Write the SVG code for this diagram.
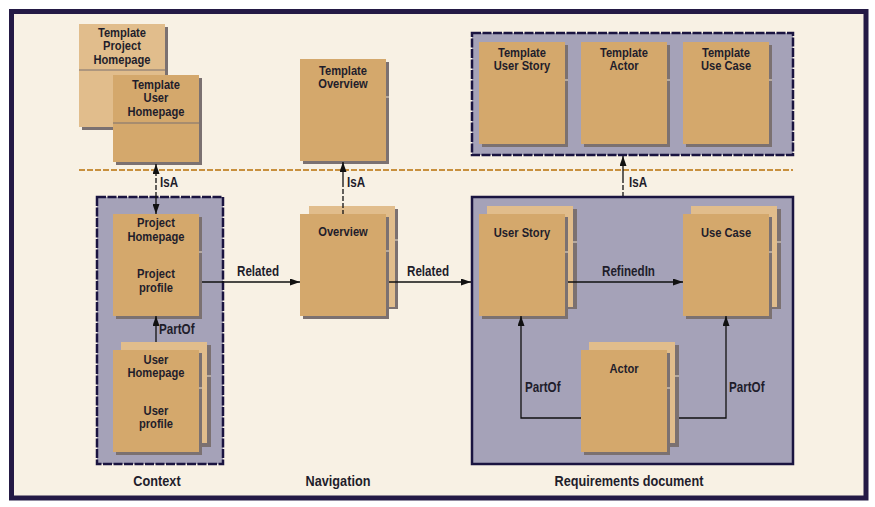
<svg xmlns="http://www.w3.org/2000/svg" width="875" height="507" viewBox="0 0 875 507">
<style>
text{font-family:"Liberation Sans",Arial,sans-serif;font-weight:bold;font-size:13.6px;fill:#1f1d2b}
.c{text-anchor:middle}
.lb{font-size:14.2px}
.big{font-size:15.5px}
.node{fill:#d4a86c}
.back{fill:#e1bd8c}
.sh{fill:#7b7171}
.tick{stroke:#efe2cf;stroke-width:1}
.div{stroke:#7b7171;stroke-width:1}
.cont{fill:#a5a2b8;stroke:#1a1440;stroke-width:2.5}
.dash{stroke-dasharray:9,1.5}
.ln{stroke:#111;stroke-width:1.3;fill:none}
.dl{stroke-dasharray:5,2}
</style>
<defs>
<marker id="ah" markerUnits="userSpaceOnUse" markerWidth="10" markerHeight="7" refX="10" refY="3.5" orient="auto">
<path d="M0,0 L10,3.5 L0,7 z" fill="#111"/>
</marker>
</defs>
<rect x="0" y="0" width="875" height="507" fill="#ffffff"/>
<rect x="11.5" y="11.5" width="854.5" height="486.5" fill="#f8f1e4" stroke="#241a45" stroke-width="5"/>
<g id="level-line">
<line x1="79" y1="170" x2="793" y2="170" stroke="#c8903e" stroke-width="2" stroke-dasharray="6,2"/>
</g>
<g id="context">
<rect class="cont dash" x="97" y="197" width="126" height="267"/>
<g transform="scale(0.82 1)"><text class="c big" x="191.46" y="486.5">Context</text></g>
</g>
<g id="template-container">
<rect class="cont dash" x="472" y="33" width="321" height="122"/>
</g>
<g id="requirements">
<rect class="cont" x="472" y="197" width="321" height="267"/>
<g transform="scale(0.82 1)"><text class="c big" x="767.07" y="486.5">Requirements document</text></g>
</g>
<g id="navigation">
<g transform="scale(0.82 1)"><text class="c big" x="412.2" y="486.5">Navigation</text></g>
</g>
<g id="template-project-homepage">
<rect class="sh" x="82" y="27" width="86" height="103"/>
<rect class="back" x="79" y="24" width="86" height="103"/>
<line class="div" x1="79" y1="70" x2="165" y2="70"/>
<g transform="scale(0.82 1)">
<text class="c" x="148.78" y="37">Template</text>
<text class="c" x="148.78" y="50.5">Project</text>
<text class="c" x="148.78" y="64">Homepage</text>
</g>
</g>
<g id="template-user-homepage">
<rect class="sh" x="116" y="78" width="86" height="87"/>
<rect class="node" x="113" y="75" width="86" height="87"/>
<line class="div" x1="113" y1="123" x2="199" y2="123"/>
<g transform="scale(0.82 1)">
<text class="c" x="190.24" y="89">Template</text>
<text class="c" x="190.24" y="102.5">User</text>
<text class="c" x="190.24" y="116">Homepage</text>
</g>
</g>
<g id="template-overview">
<rect class="sh" x="303" y="62" width="86" height="102"/>
<rect class="node" x="300" y="59" width="86" height="102"/>
<line class="tick" x1="386" y1="97" x2="389" y2="97"/>
<g transform="scale(0.82 1)">
<text class="c" x="418.29" y="75">Template</text>
<text class="c" x="418.29" y="88.5">Overview</text>
</g>
</g>
<g id="template-user-story">
<rect class="sh" x="482" y="45" width="86" height="102"/>
<rect class="node" x="479" y="42" width="86" height="102"/>
<line class="tick" x1="565" y1="80" x2="568" y2="80"/>
<g transform="scale(0.82 1)">
<text class="c" x="636.59" y="57">Template</text>
<text class="c" x="636.59" y="70.5">User Story</text>
</g>
</g>
<g id="template-actor">
<rect class="sh" x="584" y="45" width="86" height="102"/>
<rect class="node" x="581" y="42" width="86" height="102"/>
<line class="tick" x1="667" y1="80" x2="670" y2="80"/>
<g transform="scale(0.82 1)">
<text class="c" x="760.98" y="57">Template</text>
<text class="c" x="760.98" y="70.5">Actor</text>
</g>
</g>
<g id="template-use-case">
<rect class="sh" x="686" y="45" width="86" height="102"/>
<rect class="node" x="683" y="42" width="86" height="102"/>
<line class="tick" x1="769" y1="80" x2="772" y2="80"/>
<g transform="scale(0.82 1)">
<text class="c" x="885.37" y="57">Template</text>
<text class="c" x="885.37" y="70.5">Use Case</text>
</g>
</g>
<g id="project-homepage">
<rect class="sh" x="116" y="217" width="86" height="102"/>
<rect class="node" x="113" y="214" width="86" height="102"/>
<line class="tick" x1="199" y1="252" x2="202" y2="252"/>
<g transform="scale(0.82 1)">
<text class="c" x="190.24" y="227.5">Project</text>
<text class="c" x="190.24" y="241">Homepage</text>
<text class="c" x="190.24" y="278.5">Project</text>
<text class="c" x="190.24" y="292">profile</text>
</g>
</g>
<g id="user-homepage">
<rect class="sh" x="125" y="345" width="86" height="102"/>
<rect class="back" x="121" y="342" width="86" height="101"/>
<line class="tick" x1="207" y1="376" x2="211" y2="376"/>
<rect class="sh" x="116" y="353" width="86" height="102"/>
<rect class="node" x="113" y="350" width="86" height="102"/>
<line class="tick" x1="199" y1="388" x2="202" y2="388"/>
<g transform="scale(0.82 1)">
<text class="c" x="190.24" y="364">User</text>
<text class="c" x="190.24" y="377.5">Homepage</text>
<text class="c" x="190.24" y="415">User</text>
<text class="c" x="190.24" y="428.5">profile</text>
</g>
</g>
<g id="overview">
<rect class="sh" x="313" y="209" width="85" height="100"/>
<rect class="back" x="309" y="206" width="86" height="101"/>
<line class="tick" x1="395" y1="240" x2="398" y2="240"/>
<rect class="sh" x="303" y="217" width="86" height="102"/>
<rect class="node" x="300" y="214" width="86" height="102"/>
<line class="tick" x1="386" y1="251" x2="389" y2="251"/>
<g transform="scale(0.82 1)">
<text class="c" x="418.29" y="236.5">Overview</text>
</g>
</g>
<g id="user-story">
<rect class="sh" x="491" y="209" width="86" height="100"/>
<rect class="back" x="487" y="206" width="86" height="101"/>
<line class="tick" x1="573" y1="242" x2="577" y2="242"/>
<rect class="sh" x="482" y="217" width="86" height="102"/>
<rect class="node" x="479" y="214" width="86" height="102"/>
<line class="tick" x1="565" y1="252" x2="568" y2="252"/>
<g transform="scale(0.82 1)">
<text class="c" x="636.59" y="237">User Story</text>
</g>
</g>
<g id="use-case">
<rect class="sh" x="695" y="209" width="86" height="100"/>
<rect class="back" x="691" y="206" width="86" height="101"/>
<line class="tick" x1="777" y1="242" x2="781" y2="242"/>
<rect class="sh" x="686" y="217" width="86" height="102"/>
<rect class="node" x="683" y="214" width="86" height="102"/>
<line class="tick" x1="769" y1="252" x2="772" y2="252"/>
<g transform="scale(0.82 1)">
<text class="c" x="885.37" y="237">Use Case</text>
</g>
</g>
<g id="actor">
<rect class="sh" x="593" y="345" width="86" height="102"/>
<rect class="back" x="589" y="342" width="86" height="101"/>
<line class="tick" x1="675" y1="376" x2="679" y2="376"/>
<rect class="sh" x="584" y="353" width="86" height="102"/>
<rect class="node" x="581" y="350" width="86" height="102"/>
<line class="tick" x1="667" y1="388" x2="670" y2="388"/>
<g transform="scale(0.82 1)">
<text class="c" x="760.98" y="373">Actor</text>
</g>
</g>
<g id="connectors">
<line class="ln dl" x1="156" y1="197" x2="156" y2="164" marker-end="url(#ah)"/>
<line class="ln" x1="156" y1="197" x2="156" y2="214" marker-end="url(#ah)"/>
<line class="ln" x1="343" y1="182" x2="343" y2="162" marker-end="url(#ah)"/>
<line class="ln dl" x1="343" y1="182" x2="343" y2="214"/>
<line class="ln" x1="623" y1="178" x2="623" y2="156" marker-end="url(#ah)"/>
<line class="ln dl" x1="623" y1="178" x2="623" y2="196"/>
<line class="ln" x1="156" y1="342" x2="156" y2="316" marker-end="url(#ah)"/>
<line class="ln" x1="202" y1="282" x2="300" y2="282" marker-end="url(#ah)"/>
<line class="ln" x1="389" y1="282" x2="471" y2="282" marker-end="url(#ah)"/>
<line class="ln" x1="568" y1="282" x2="683" y2="282" marker-end="url(#ah)"/>
<polyline class="ln" points="581,418 521,418 521,316" marker-end="url(#ah)"/>
<polyline class="ln" points="679,418 726,418 726,316" marker-end="url(#ah)"/>
<g transform="scale(0.82 1)">
<text class="lb" x="195.12" y="187">IsA</text>
<text class="lb" x="423.17" y="187">IsA</text>
<text class="lb" x="767.07" y="187">IsA</text>
<text class="lb" x="193.9" y="334">PartOf</text>
<text class="lb" x="289.02" y="276">Related</text>
<text class="lb" x="496.34" y="276">Related</text>
<text class="lb" x="734.15" y="276">RefinedIn</text>
<text class="lb" x="640.24" y="392">PartOf</text>
<text class="lb" x="889.02" y="392">PartOf</text>
</g>
</g>
</svg>
